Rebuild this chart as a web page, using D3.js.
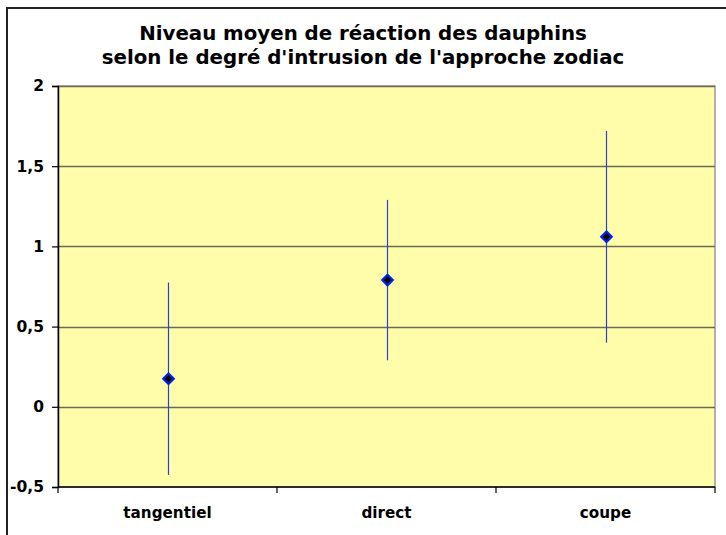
<!DOCTYPE html>
<html>
<head>
<meta charset="utf-8">
<script src="https://cdn.jsdelivr.net/npm/d3@7"></script>
<style>
  html, body { margin: 0; padding: 0; background: #fff; }
  svg { display: block; }
  text { font-family: "DejaVu Sans", Verdana, sans-serif; font-weight: bold; fill: #000; }
</style>
</head>
<body>
<svg id="chart" width="726" height="535"></svg>
<script>
const categories = ["tangentiel", "direct", "coupe"];
const means = [0.175, 0.79, 1.06];
const errors = [0.60, 0.50, 0.66];
const yTicks = [-0.5, 0, 0.5, 1, 1.5, 2];
const yTickLabels = ["-0,5", "0", "0,5", "1", "1,5", "2"];
const titleLines = ["Niveau moyen de réaction des dauphins", "selon le degré d'intrusion de l'approche zodiac"];

const svg = d3.select("#chart");
const plot = { left: 58, right: 715, top: 86, bottom: 487 };

// outer chart border
svg.append("rect").attr("x", 7).attr("y", 8).attr("width", 740).attr("height", 560)
  .attr("fill", "none").attr("stroke", "#222").attr("stroke-width", 2);

const x = d3.scaleBand().domain(categories).range([plot.left, plot.right]);
const y = d3.scaleLinear().domain([-0.5, 2]).range([plot.bottom, plot.top]);

// plot background
svg.append("rect").attr("x", plot.left).attr("y", plot.top)
  .attr("width", plot.right - plot.left).attr("height", plot.bottom - plot.top)
  .attr("fill", "#FFFCAA").attr("stroke", "#999").attr("stroke-width", 1.5);

// gridlines
svg.append("g").selectAll("line").data(yTicks.slice(1)).join("line")
  .attr("x1", plot.left).attr("x2", plot.right)
  .attr("y1", d => Math.round(y(d)) + 0.5).attr("y2", d => Math.round(y(d)) + 0.5)
  .attr("stroke", "#6b6b55").attr("stroke-width", 1.5);

// y axis
const yAxis = d3.axisLeft(y).tickValues(yTicks).tickSize(6).tickPadding(8)
  .tickFormat((d, i) => yTickLabels[i]);
const gy = svg.append("g").attr("transform", `translate(${plot.left},0)`).call(yAxis);
gy.select(".domain").attr("stroke", "#000").attr("stroke-width", 1.5);
gy.selectAll(".tick line").attr("stroke", "#000").attr("stroke-width", 1.2);
gy.selectAll("text").style("font-size", "15.5px").style("font-family", "'DejaVu Sans', Verdana, sans-serif").style("font-weight", "bold");

// x axis
const gx = svg.append("g").attr("transform", `translate(0,${plot.bottom})`);
gx.append("line").attr("x1", plot.left).attr("x2", plot.right).attr("y1", 0).attr("y2", 0)
  .attr("stroke", "#000").attr("stroke-width", 1.5);
const bounds = categories.map(c => x(c)).concat([plot.right]);
gx.selectAll("line.tk").data(bounds).join("line").attr("class", "tk")
  .attr("x1", d => d).attr("x2", d => d).attr("y1", 0).attr("y2", 6)
  .attr("stroke", "#000").attr("stroke-width", 1.2);
gx.selectAll("text").data(categories).join("text")
  .attr("x", d => x(d) + x.bandwidth() / 2).attr("y", 31)
  .attr("text-anchor", "middle").style("font-size", "15.2px")
  .text(d => d);

// error bars
const cx = c => x(c) + x.bandwidth() / 2;
svg.append("g").selectAll("line").data(categories).join("line")
  .attr("x1", (c) => Math.round(cx(c)) + 0.5).attr("x2", (c) => Math.round(cx(c)) + 0.5)
  .attr("y1", (c, i) => y(means[i] + errors[i])).attr("y2", (c, i) => y(means[i] - errors[i]))
  .attr("stroke", "#2a3fd8").attr("stroke-width", 1.2);

// markers
const diamond = d3.symbol().type(d3.symbolDiamond2).size(70);
svg.append("g").selectAll("path").data(categories).join("path")
  .attr("transform", (c, i) => `translate(${Math.round(cx(c)) + 0.5},${y(means[i])})`)
  .attr("d", diamond)
  .attr("fill", "#000").attr("stroke", "#0022ee").attr("stroke-width", 2.2);

// title
svg.append("text").attr("x", 363).attr("y", 40).attr("text-anchor", "middle")
  .style("font-size", "19.8px")
  .selectAll("tspan").data(titleLines).join("tspan")
  .attr("x", 363).attr("dy", (d, i) => i === 0 ? 0 : 24).text(d => d);
</script>
</body>
</html>
